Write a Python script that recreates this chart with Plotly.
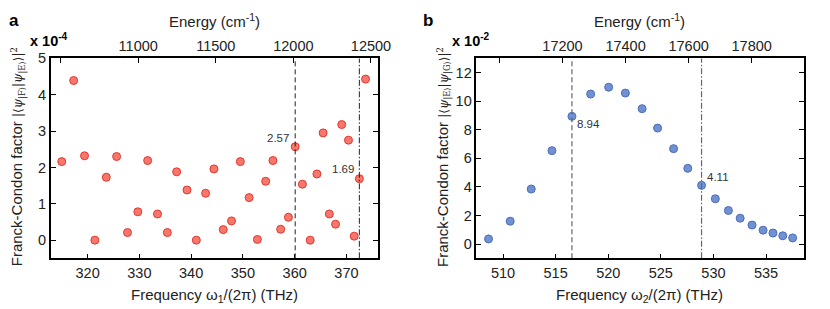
import plotly.graph_objects as go

# ---------------- data ----------------
freq_a = [315.0, 317.3, 319.4, 321.4, 323.6, 325.6, 327.7, 329.7, 331.6, 333.5,
          335.4, 337.2, 339.2, 341.0, 342.8, 344.4, 346.2, 347.8, 349.5, 351.2,
          352.8, 354.4, 355.8, 357.3, 358.8, 360.1, 361.5, 363.0, 364.3, 365.5,
          366.7, 367.9, 369.1, 370.4, 371.5, 372.5, 373.7]
fc_a = [2.16, 4.39, 2.32, 0.00, 1.73, 2.30, 0.21, 0.78, 2.19, 0.72,
        0.21, 1.88, 1.38, 0.00, 1.29, 1.96, 0.29, 0.53, 2.16, 1.17,
        0.02, 1.62, 2.19, 0.30, 0.63, 2.57, 1.54, 0.00, 1.82, 2.95,
        0.72, 0.44, 3.18, 2.75, 0.11, 1.69, 4.43]

freq_b = [508.62, 510.68, 512.68, 514.65, 516.55, 518.33, 520.04, 521.63, 523.22,
          524.69, 526.21, 527.56, 528.87, 530.18, 531.42, 532.54, 533.67, 534.72,
          535.66, 536.59, 537.53]
fc_b = [0.36, 1.60, 3.85, 6.54, 8.94, 10.50, 10.98, 10.57, 9.48, 8.12, 6.68,
        5.30, 4.11, 3.17, 2.35, 1.81, 1.33, 0.97, 0.77, 0.58, 0.43]

# marked lines (dashed, dash-dot) and their labels
lines_a = [360.1, 372.5]
labels_a = ["2.57", "1.69"]
lines_b = [516.55, 528.87]
labels_b = ["8.94", "4.11"]

xrange_a = [312.9, 376.1]
yrange_a = [-0.5, 5]
xrange_b = [507.47, 538.6]
yrange_b = [-1, 13]
xticks_a = [320, 330, 340, 350, 360, 370]
yticks_a = [0, 1, 2, 3, 4, 5]
xticks_b = [510, 515, 520, 525, 530, 535]
yticks_b = [0, 2, 4, 6, 8, 10, 12]
eticks_a = [10500, 11000, 11500, 12000, 12500]
etext_a = ["", "11000", "11500", "12000", "12500"]
eticks_b = [17000, 17200, 17400, 17600, 17800]
etext_b = ["", "17200", "17400", "17600", "17800"]
THZ_TO_CM = 33.356

# ---------------- figure ----------------
W, H = 830, 309
FONT = "Liberation Sans, Arial, Helvetica, sans-serif"
TXT = "#222222"

dom_a = [51.7 / W, 384.0 / W]
dom_b = [484.0 / W, 816.7 / W]
dom_y = [(H - 257.0) / H, (H - 51.7) / H]

fig = go.Figure()

fig.add_trace(go.Scatter(
    x=freq_a, y=fc_a, mode="markers", xaxis="x", yaxis="y",
    marker=dict(size=8, color="#F7776C", line=dict(color="#E2382E", width=1)),
    showlegend=False, hoverinfo="x+y"))
fig.add_trace(go.Scatter(
    x=freq_b, y=fc_b, mode="markers", xaxis="x2", yaxis="y2",
    marker=dict(size=8, color="#7191D3", line=dict(color="#4C6DB8", width=1)),
    showlegend=False, hoverinfo="x+y"))
# invisible traces to anchor the energy axes
fig.add_trace(go.Scatter(x=[xrange_a[0] * THZ_TO_CM], y=[fc_a[0]], xaxis="x3", yaxis="y",
                         mode="markers", marker=dict(opacity=0), showlegend=False, hoverinfo="skip"))
fig.add_trace(go.Scatter(x=[xrange_b[0] * THZ_TO_CM], y=[fc_b[0]], xaxis="x4", yaxis="y2",
                         mode="markers", marker=dict(opacity=0), showlegend=False, hoverinfo="skip"))

common_ax = dict(showline=True, linecolor="black", linewidth=1.6, ticks="inside",
                 ticklen=5, tickwidth=1.4, tickcolor="black", showgrid=False,
                 zeroline=False, tickfont=dict(family=FONT, size=14.5, color=TXT))

fig.update_layout(
    width=W, height=H, margin=dict(l=0, r=0, t=0, b=0),
    paper_bgcolor="white", plot_bgcolor="white",
    font=dict(family=FONT, color=TXT),
    xaxis=dict(domain=dom_a, anchor="y", range=xrange_a, tickvals=xticks_a,
               mirror=True, **common_ax),
    yaxis=dict(domain=dom_y, anchor="x", range=yrange_a, tickvals=yticks_a,
               mirror="ticks", **common_ax),
    xaxis3=dict(overlaying="x", side="top", anchor="y",
                range=[xrange_a[0] * THZ_TO_CM, xrange_a[1] * THZ_TO_CM],
                tickvals=eticks_a, ticktext=etext_a, **common_ax),
    xaxis2=dict(domain=dom_b, anchor="y2", range=xrange_b, tickvals=xticks_b,
                mirror=True, **common_ax),
    yaxis2=dict(domain=dom_y, anchor="x2", range=yrange_b, tickvals=yticks_b,
                mirror="ticks", **common_ax),
    xaxis4=dict(overlaying="x2", side="top", anchor="y2",
                range=[xrange_b[0] * THZ_TO_CM, xrange_b[1] * THZ_TO_CM],
                tickvals=eticks_b, ticktext=etext_b, **common_ax),
)

# vertical marker lines
DASH = "5px,3px"
DASHDOT = "6px,2px,1.5px,2px"
for xv, dash in zip(lines_a, [DASH, DASHDOT]):
    fig.add_shape(type="line", xref="x", yref="y", x0=xv, x1=xv,
                  y0=yrange_a[0], y1=yrange_a[1], line=dict(color="#222222", width=1, dash=dash))
for xv, dash in zip(lines_b, [DASH, DASHDOT]):
    fig.add_shape(type="line", xref="x2", yref="y2", x0=xv, x1=xv,
                  y0=yrange_b[0], y1=yrange_b[1], line=dict(color="#666666", width=1.2, dash=dash))

ann_font = dict(family=FONT, size=11.5, color="#333333")
# value labels
yv_a = [fc_a[freq_a.index(v)] for v in lines_a]
yv_b = [fc_b[freq_b.index(v)] for v in lines_b]
fig.add_annotation(x=lines_a[0], y=yv_a[0], xref="x", yref="y", text=labels_a[0],
                   showarrow=False, xanchor="right", xshift=-4, yshift=9, font=ann_font)
fig.add_annotation(x=lines_a[1], y=yv_a[1], xref="x", yref="y", text=labels_a[1],
                   showarrow=False, xanchor="right", xshift=-3, yshift=10, font=ann_font)
fig.add_annotation(x=lines_b[0], y=yv_b[0], xref="x2", yref="y2", text=labels_b[0],
                   showarrow=False, xanchor="left", xshift=3, yshift=-8, font=ann_font)
fig.add_annotation(x=lines_b[1], y=yv_b[1], xref="x2", yref="y2", text=labels_b[1],
                   showarrow=False, xanchor="left", xshift=3, yshift=8, font=ann_font)

math = "font-family:'DejaVu Serif';font-size:12px"
ytitle_a = ("Franck-Condon factor <span style=\"%s\">|⟨<i>ψ</i><sub>|F⟩</sub>|<i>ψ</i><sub>|E⟩</sub>⟩|<sup>2</sup></span>" % math)
ytitle_b = ("Franck-Condon factor <span style=\"%s\">|⟨<i>ψ</i><sub>|E⟩</sub>|<i>ψ</i><sub>|G⟩</sub>⟩|<sup>2</sup></span>" % math)

def pa(x, y, text, size=15, bold=False, angle=0, xa="center", ya="middle"):
    t = "<b>%s</b>" % text if bold else text
    fig.add_annotation(x=x / W, y=1 - y / H, xref="paper", yref="paper", text=t,
                       showarrow=False, textangle=angle, xanchor=xa, yanchor=ya,
                       font=dict(family=FONT, size=size, color=TXT if not bold else "black"))

# panel a
pa(217.5, 13, "Energy (cm<sup>-1</sup>)")
pa(217.5, 295.5, "Frequency ω<sub>1</sub>/(2π) (THz)")
pa(18.5, 153, ytitle_a, angle=-90)
pa(28, 33, "x 10<sup>-4</sup>", size=14.5, bold=True, xa="left")
pa(14, 13, "a", size=17, bold=True)
# panel b
pa(650, 13, "Energy (cm<sup>-1</sup>)")
pa(650, 295.5, "Frequency ω<sub>2</sub>/(2π) (THz)")
pa(451, 153, ytitle_b, angle=-90)
pa(457, 33, "x 10<sup>-2</sup>", size=14.5, bold=True, xa="left")
pa(435, 13, "b", size=17, bold=True)

fig.write_html("out.html", config={"displayModeBar": False},
               post_script="document.body.style.margin='0';document.body.style.padding='0';")
